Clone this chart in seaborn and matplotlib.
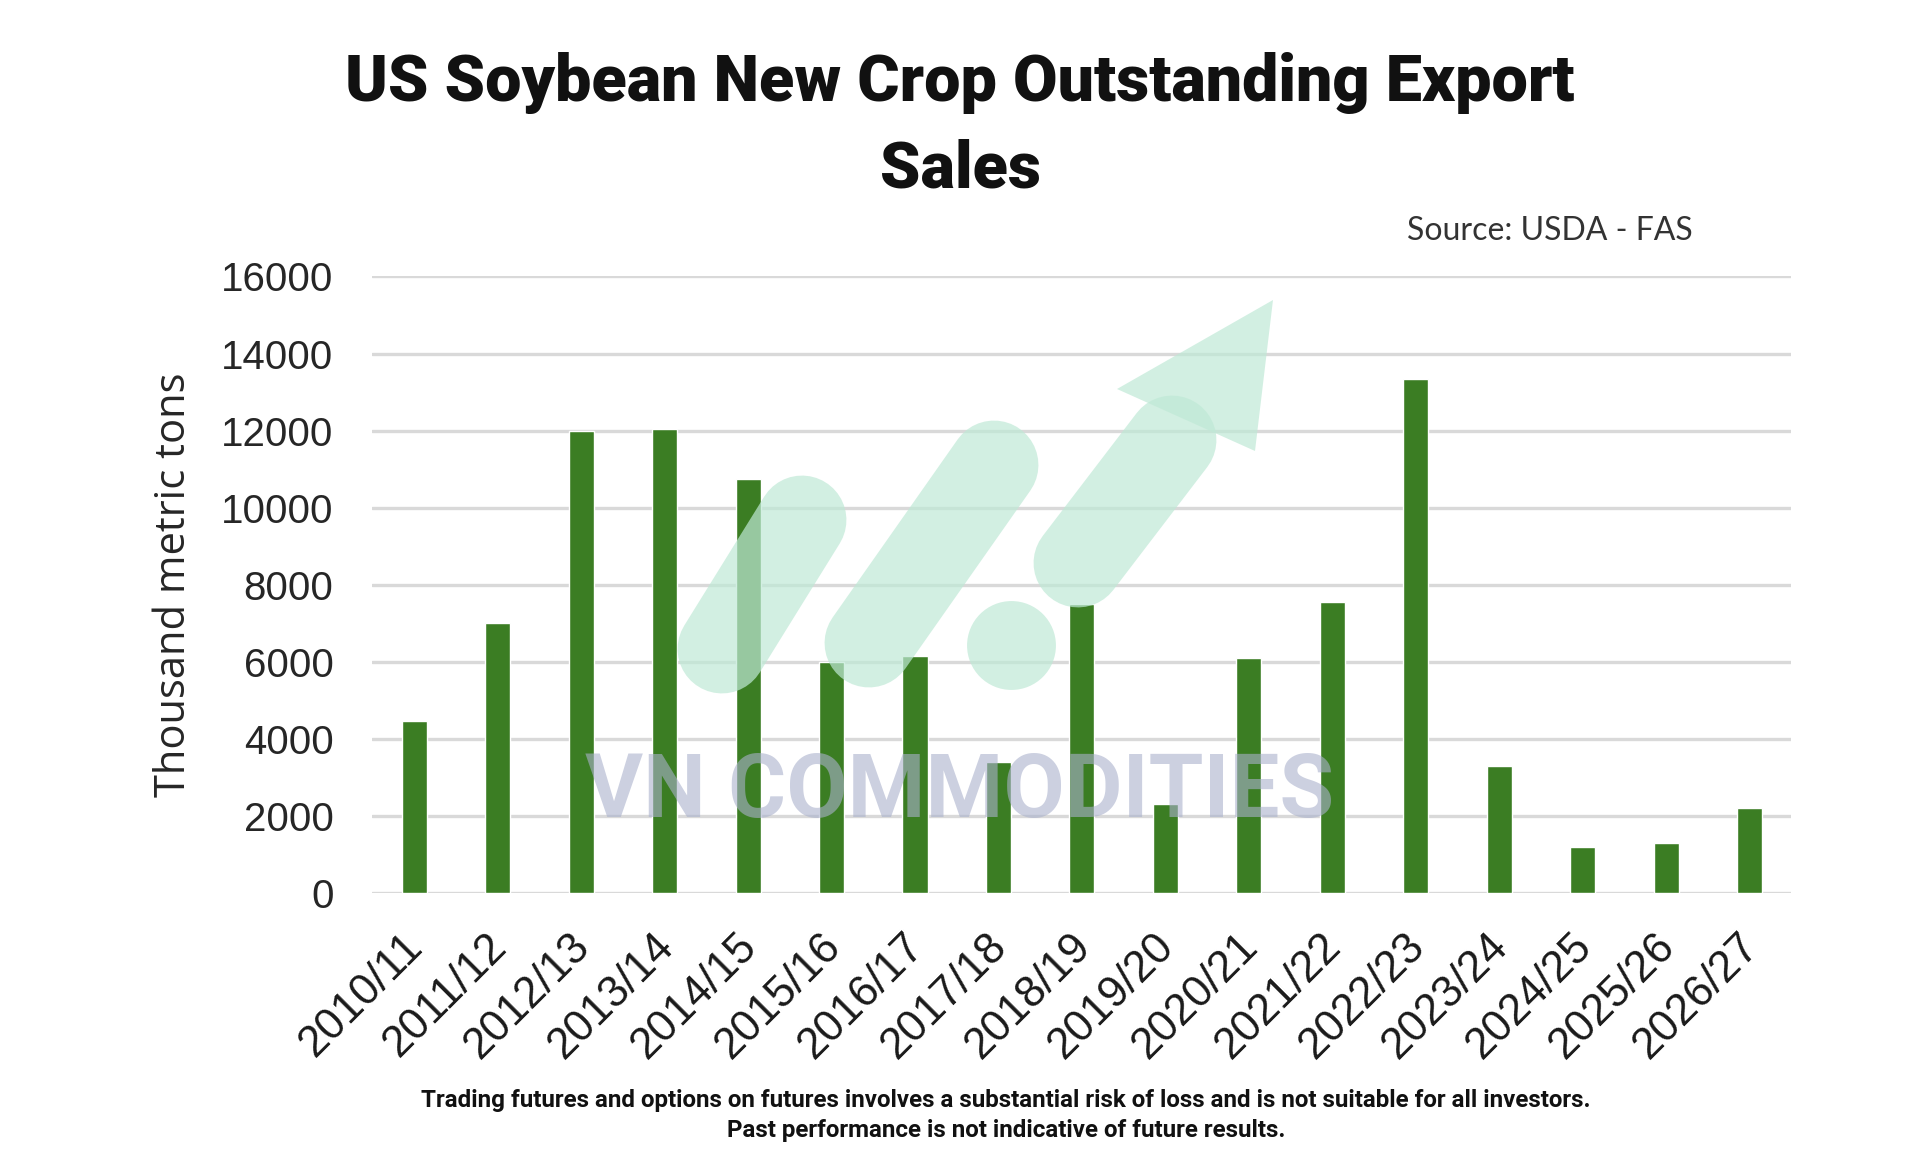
import numpy as np
import pandas as pd
import seaborn as sns
import matplotlib.pyplot as plt
from matplotlib.lines import Line2D
from matplotlib.patches import Polygon
from matplotlib.transforms import ScaledTranslation

seasons = ["2010/11", "2011/12", "2012/13", "2013/14", "2014/15", "2015/16",
           "2016/17", "2017/18", "2018/19", "2019/20", "2020/21", "2021/22",
           "2022/23", "2023/24", "2024/25", "2025/26", "2026/27"]
outstanding = [4450, 7000, 12000, 12050, 10750, 6000, 6150, 3400, 7500,
               2300, 6100, 7550, 13350, 3300, 1200, 1300, 2200]
yticks = [0, 2000, 4000, 6000, 8000, 10000, 12000, 14000, 16000]

df = pd.DataFrame({"season": seasons, "kt": outstanding})

sns.set_theme(style="white")
plt.rcParams['font.family'] = ['Liberation Sans', 'DejaVu Sans']
cond = ["Roboto", "DejaVu Sans"]

fig = plt.figure(figsize=(19.2, 11.52), dpi=100)
ax = fig.add_axes([0.194, 0.225, 0.739, 0.535])

sns.barplot(data=df, x="season", y="kt", color="#3b7d23", saturation=1,
            width=0.3, ax=ax, zorder=3)

ax.set_ylim(0, 16000)
ax.set_xlim(-0.5, len(seasons) - 0.5)
ax.set_yticks(yticks)
ax.set_yticklabels([str(t) for t in yticks], fontsize=29, color="#262626")
ax.yaxis.grid(True, color="#d9d9d9", linewidth=2.4, zorder=0)
ax.set_axisbelow(True)
for s in ax.spines.values():
    s.set_visible(False)
ax.tick_params(axis="y", length=0, pad=28)
ax.set_xticks(range(len(seasons)))
ax.set_xticklabels(seasons, rotation=45, ha="right", rotation_mode="anchor",
                   fontsize=31.5, color="#1a1a1a")
ax.tick_params(axis="x", length=0, pad=14)
shift = ScaledTranslation(-0.12, -0.13, fig.dpi_scale_trans)
for lbl in ax.get_xticklabels():
    lbl.set_transform(lbl.get_transform() + shift)
ax.set_xlabel("")
ax.set_ylabel("Thousand metric tons", fontsize=30, color="#262626",
              family=["Open Sans", "DejaVu Sans"], labelpad=19)


def px(x, y):
    return (x / 1920, 1 - y / 1152)


# watermark logo
mint = "#bfe9d6"
for a, b in [((722, 649), (802, 520)), ((869, 643), (994, 465)),
             ((1078, 563), (1172, 440))]:
    (x0, y0), (x1, y1) = px(*a), px(*b)
    fig.add_artist(Line2D([x0, x1], [y0, y1], transform=fig.transFigure,
                          color=mint, alpha=0.7, linewidth=64,
                          solid_capstyle="round", zorder=5))
cx, cy = px(1011, 645)
fig.add_artist(Line2D([cx], [cy], transform=fig.transFigure, marker="o",
                      markersize=64, markeredgewidth=0, color=mint,
                      alpha=0.7, zorder=5))
fig.add_artist(Polygon([px(1273, 300), px(1117, 389), px(1255, 451)],
                       closed=True, transform=fig.transFigure,
                       color=mint, alpha=0.7, zorder=5, lw=0))
fig.text(0.5, 1 - 793 / 1152, "VN COMMODITIES", ha="center", va="center",
         fontsize=64, fontweight="bold", color="#aab1cc", alpha=0.6,
         family=cond, zorder=6)

fig.text(0.5, 1 - 83 / 1152, "US Soybean New Crop Outstanding Export",
         ha="center", va="center", fontsize=46.5, fontweight="black",
         family=cond, color="#111111")
fig.text(0.5, 1 - 170 / 1152, "Sales",
         ha="center", va="center", fontsize=46.5, fontweight="black",
         family=cond, color="#111111")
fig.text(1550 / 1920, 1 - 231 / 1152, "Source: USDA - FAS", ha="center",
         va="center", fontsize=23, family=["Lato", "DejaVu Sans"],
         color="#333333")
fig.text(1006 / 1920, 1 - 1100 / 1152,
         "Trading futures and options on futures involves a substantial risk of loss and is not suitable for all investors.",
         ha="center", va="center", fontsize=17.4, fontweight="bold",
         family=cond, color="#111111")
fig.text(1006 / 1920, 1 - 1131 / 1152,
         "Past performance is not indicative of future results.",
         ha="center", va="center", fontsize=17.4, fontweight="bold",
         family=cond, color="#111111")

fig.savefig("out.png", dpi=100, facecolor="white")
